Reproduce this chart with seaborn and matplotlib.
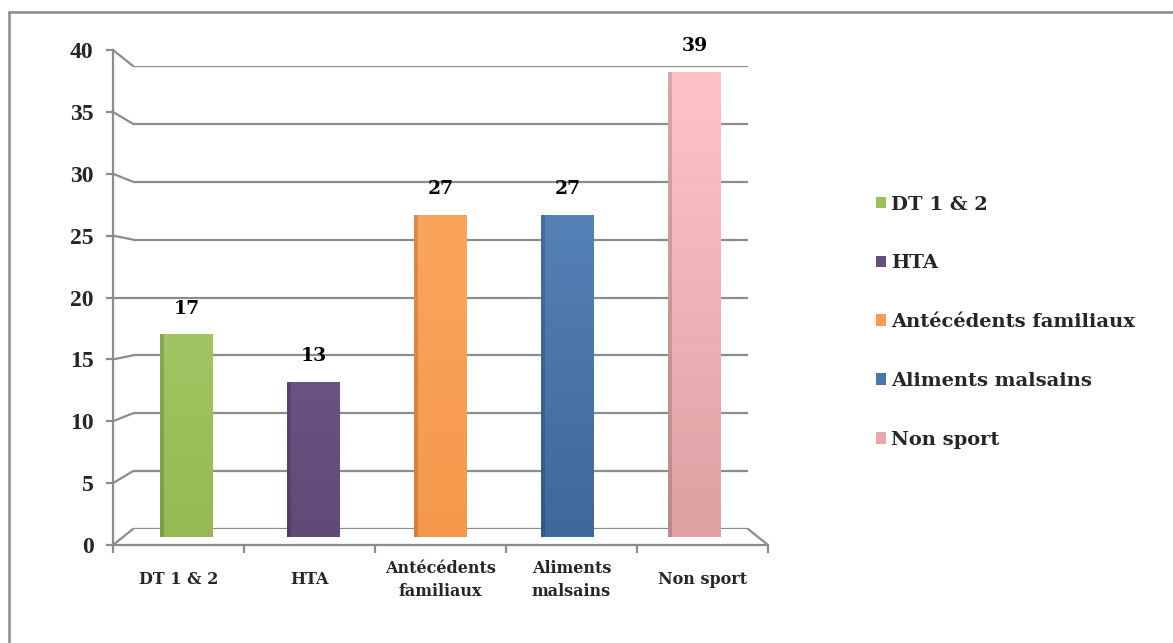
import numpy as np
import pandas as pd
import matplotlib
matplotlib.use("Agg")
import matplotlib.pyplot as plt
import seaborn as sns
from matplotlib.patches import Rectangle, Patch
from matplotlib.lines import Line2D

categories = ["DT 1 & 2", "HTA", "Antécédents familiaux", "Aliments malsains", "Non sport"]
tick_labels = ["DT 1 & 2", "HTA", "Antécédents\nfamiliaux", "Aliments\nmalsains", "Non sport"]
values = [17, 13, 27, 27, 39]
colors = ["#9BBF5A", "#664F7D", "#F89D52", "#4A76AA", "#E9A6AB"]
top_colors = ["#A2C462", "#6A5282", "#FBA55C", "#5481B6", "#FFC3C7"]
bottom_colors = ["#96B955", "#614A77", "#F5984B", "#3F689B", "#DFA0A4"]
y_ticks = [0, 5, 10, 15, 20, 25, 30, 35, 40]

sns.set_theme(style="white")
plt.rcParams["font.family"] = ["Liberation Serif", "DejaVu Serif"]
plt.rcParams["font.weight"] = "bold"
LBL = ["DejaVu Serif", "Liberation Serif"]

W, H = 1173, 643
fig = plt.figure(figsize=(W / 100, H / 100), dpi=100)
fig.patch.set_facecolor("white")

def rect(x0, x1, ytop, ybot):
    return [x0 / W, 1 - ybot / H, (x1 - x0) / W, (ybot - ytop) / H]

GRID = "#8C8C8C"

# back wall (gridlines)
ax_back = fig.add_axes(rect(133, 748, 66, 529))
ax_back.set_xlim(0, 1)
ax_back.set_ylim(0, 40)
for v in y_ticks:
    ax_back.axhline(v, color=GRID, lw=1.6, zorder=1)
ax_back.axis("off")

# front frame (axes, ticks, labels)
ax_front = fig.add_axes(rect(113, 768, 50, 545))
ax_front.set_xlim(0, len(categories))
ax_front.set_ylim(0, 40)
ax_front.patch.set_alpha(0)
for s in ["top", "right"]:
    ax_front.spines[s].set_visible(False)
for s in ["left", "bottom"]:
    ax_front.spines[s].set_color(GRID)
    ax_front.spines[s].set_linewidth(1.6)
ax_front.set_yticks(y_ticks)
ax_front.set_yticklabels([str(v) for v in y_ticks], fontweight="bold")
ax_front.set_xticks(np.arange(len(categories) + 1))
ax_front.set_xticklabels([])
ax_front.set_xticks(np.arange(len(categories)) + 0.5, minor=True)
ax_front.set_xticklabels(tick_labels, minor=True, linespacing=1.45, family=LBL,
                         fontweight="bold")
ax_front.tick_params(axis="y", which="major", direction="out", length=5, width=1.6,
                     color=GRID, pad=9, left=True, labelsize=17)
ax_front.tick_params(axis="x", which="major", direction="out", length=6, width=1.6,
                     color=GRID, bottom=True)
ax_front.tick_params(axis="x", which="minor", length=0, pad=25, labelsize=11.5)
for t in ax_front.get_xticklabels(minor=True):
    t.set_verticalalignment("center")
ax_front.grid(False)

# perspective connectors from front frame to back wall
to_fig = fig.transFigure.inverted()
def p_front(x, y):
    return to_fig.transform(ax_front.transData.transform((x, y)))
def p_back(x, y):
    return to_fig.transform(ax_back.transData.transform((x, y)))
for v in y_ticks:
    a = p_front(0, v); b = p_back(0, v)
    fig.add_artist(Line2D([a[0], b[0]], [a[1], b[1]], color=GRID, lw=1.6))
a = p_front(len(categories), 0); b = p_back(1, 0)
fig.add_artist(Line2D([a[0], b[0]], [a[1], b[1]], color=GRID, lw=1.6))

# bars at mid depth
ax_bar = fig.add_axes(rect(123, 758, 60, 537))
df = pd.DataFrame({"cat": categories, "val": values})
sns.barplot(data=df, x="cat", y="val", hue="cat", palette=colors, order=categories,
            hue_order=categories, width=0.41, dodge=False, legend=False, ax=ax_bar,
            saturation=1, zorder=3)
ax_bar.set_ylim(0, 40)
ax_bar.set_xlim(-0.5, len(categories) - 0.5)
ax_bar.axis("off")
ax_bar.patch.set_alpha(0)

for p, ct, cb, v in zip(ax_bar.patches, top_colors, bottom_colors, values):
    x0, w, h = p.get_x(), p.get_width(), p.get_height()
    p.set_edgecolor("none")
    grad = np.linspace(1, 0, 64).reshape(-1, 1, 1)
    top = np.array(matplotlib.colors.to_rgb(ct))
    bot = np.array(matplotlib.colors.to_rgb(cb))
    img = bot[None, None, :] * (1 - grad) + top[None, None, :] * grad
    im = ax_bar.imshow(img, extent=[x0, x0 + w, 0, h], aspect="auto", zorder=4,
                       interpolation="bicubic")
    im.set_clip_path(p)
    ax_bar.add_patch(Rectangle((x0, 0), w * 0.07, h, facecolor="black", alpha=0.15,
                               edgecolor="none", zorder=5))
    ax_bar.annotate(str(v), (x0 + w / 2, h), xytext=(0, 12), textcoords="offset points",
                    ha="center", va="bottom", fontsize=13.5, fontweight="bold",
                    family=LBL, color="black", zorder=6)

# legend
handles = [Patch(facecolor=c, edgecolor="none") for c in colors]
fig.legend(handles, categories, loc="upper left", bbox_to_anchor=(858 / W, 1 - 178 / H),
           frameon=False, handlelength=0.55, handleheight=0.55, handletextpad=0.25,
           labelspacing=2.1, prop={"weight": "bold", "size": 14, "family": LBL})

# outer border
fig.add_artist(Line2D([8.5 / W, 1], [1 - 11.5 / H, 1 - 11.5 / H], color="#8A8A8A", lw=1.8))
fig.add_artist(Line2D([8.5 / W, 8.5 / W], [0, 1 - 11.5 / H], color="#8A8A8A", lw=1.8))

fig.savefig("out.png", dpi=100, facecolor="white")
